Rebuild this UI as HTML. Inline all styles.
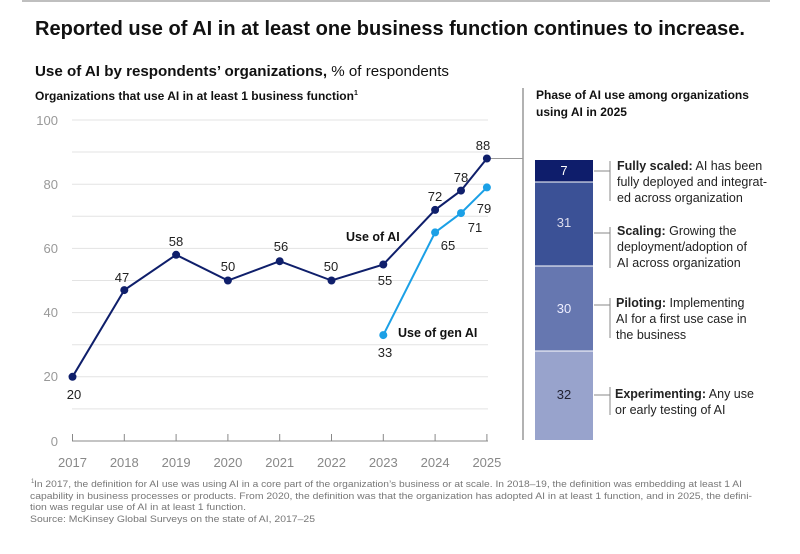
<!DOCTYPE html>
<html><head><meta charset="utf-8"><style>
body{margin:0;background:#fff;width:800px;height:549px;overflow:hidden;font-family:"Liberation Sans",sans-serif;}
svg text{font-family:"Liberation Sans",sans-serif;}
</style></head><body>
<svg width="800" height="549" viewBox="0 0 800 549" xmlns="http://www.w3.org/2000/svg">
<line x1="22" y1="1" x2="770" y2="1" stroke="#aaa" stroke-width="1.5"/>
<text x="35" y="35" font-size="20" fill="#111" font-weight="bold" textLength="710" lengthAdjust="spacingAndGlyphs">Reported use of AI in at least one business function continues to increase.</text>
<text x="35" y="76" font-size="14.5" fill="#111" textLength="414" lengthAdjust="spacingAndGlyphs"><tspan font-weight="bold">Use of AI by respondents’ organizations,</tspan> % of respondents</text>
<text x="35" y="100" font-size="12" fill="#111" font-weight="bold">Organizations that use AI in at least 1 business function<tspan font-size="7" dy="-5">1</tspan></text>
<text x="536" y="99" font-size="12" fill="#111" font-weight="bold">Phase of AI use among organizations</text>
<text x="536" y="116" font-size="12" fill="#111" font-weight="bold">using AI in 2025</text>
<line x1="523" y1="88" x2="523" y2="440" stroke="#666" stroke-width="1"/>
<g stroke="#e3e3e3" stroke-width="1">
<line x1="72" y1="120" x2="488" y2="120"/><line x1="72" y1="152" x2="488" y2="152"/>
<line x1="72" y1="184.2" x2="488" y2="184.2"/><line x1="72" y1="216.3" x2="488" y2="216.3"/>
<line x1="72" y1="248.4" x2="488" y2="248.4"/><line x1="72" y1="280.5" x2="488" y2="280.5"/>
<line x1="72" y1="312.6" x2="488" y2="312.6"/><line x1="72" y1="344.7" x2="488" y2="344.7"/>
<line x1="72" y1="376.8" x2="488" y2="376.8"/><line x1="72" y1="408.9" x2="488" y2="408.9"/>
</g>
<g stroke="#888" stroke-width="1">
<line x1="72" y1="441" x2="488" y2="441"/>
<line x1="72.5" y1="434" x2="72.5" y2="441"/><line x1="124.3" y1="434" x2="124.3" y2="441"/>
<line x1="176.1" y1="434" x2="176.1" y2="441"/><line x1="227.9" y1="434" x2="227.9" y2="441"/>
<line x1="279.7" y1="434" x2="279.7" y2="441"/><line x1="331.5" y1="434" x2="331.5" y2="441"/>
<line x1="383.3" y1="434" x2="383.3" y2="441"/><line x1="435.1" y1="434" x2="435.1" y2="441"/>
<line x1="486.9" y1="434" x2="486.9" y2="441"/>
</g>
<g font-size="13" fill="#999" text-anchor="end">
<text x="58" y="125">100</text><text x="58" y="189">80</text><text x="58" y="253">60</text>
<text x="58" y="317">40</text><text x="58" y="381">20</text><text x="58" y="446">0</text>
</g>
<g font-size="13" fill="#888" text-anchor="middle">
<text x="72.5" y="467">2017</text><text x="124.3" y="467">2018</text><text x="176.1" y="467">2019</text>
<text x="227.9" y="467">2020</text><text x="279.7" y="467">2021</text><text x="331.5" y="467">2022</text>
<text x="383.3" y="467">2023</text><text x="435.1" y="467">2024</text><text x="486.9" y="467">2025</text>
</g>
<line x1="487" y1="158.5" x2="523" y2="158.5" stroke="#999" stroke-width="1"/>
<polyline fill="none" stroke="#0f1f6b" stroke-width="2" points="72.5,376.8 124.3,290.1 176.1,254.8 227.9,280.5 279.7,261.2 331.5,280.5 383.3,264.5 435.1,209.9 461,190.6 486.9,158.5"/>
<g fill="#0f1f6b">
<circle cx="72.5" cy="376.8" r="4"/><circle cx="124.3" cy="290.1" r="4"/><circle cx="176.1" cy="254.8" r="4"/>
<circle cx="227.9" cy="280.5" r="4"/><circle cx="279.7" cy="261.2" r="4"/><circle cx="331.5" cy="280.5" r="4"/>
<circle cx="383.3" cy="264.5" r="4"/><circle cx="435.1" cy="209.9" r="4"/><circle cx="461" cy="190.6" r="4"/>
<circle cx="486.9" cy="158.5" r="4"/>
</g>
<polyline fill="none" stroke="#1ba0e6" stroke-width="2" points="383.3,335.1 435.1,232.4 461,213.1 486.9,187.4"/>
<g fill="#1ba0e6">
<circle cx="383.3" cy="335.1" r="4"/><circle cx="435.1" cy="232.4" r="4"/><circle cx="461" cy="213.1" r="4"/><circle cx="486.9" cy="187.4" r="4"/>
</g>
<g font-size="13" fill="#222" text-anchor="middle">
<text x="74" y="399">20</text><text x="122" y="282">47</text><text x="176" y="246">58</text>
<text x="228" y="271">50</text><text x="281" y="251">56</text><text x="331" y="271">50</text>
<text x="385" y="285">55</text><text x="435" y="201">72</text><text x="461" y="182">78</text>
<text x="483" y="150">88</text>
<text x="385" y="357">33</text><text x="448" y="250">65</text><text x="475" y="232">71</text><text x="484" y="213">79</text>
</g>
<text x="346" y="241" font-size="12.5" fill="#111" font-weight="bold">Use of AI</text>
<text x="398" y="337" font-size="12.5" fill="#111" font-weight="bold">Use of gen AI</text>
<rect x="535" y="160" width="58" height="22" fill="#0e1d6b"/>
<rect x="535" y="182" width="58" height="84" fill="#3b5196"/>
<rect x="535" y="266" width="58" height="85" fill="#6677b0"/>
<rect x="535" y="351" width="58" height="89" fill="#98a3cc"/>
<line x1="535" y1="182" x2="593" y2="182" stroke="#fff" stroke-width="1"/>
<line x1="535" y1="266" x2="593" y2="266" stroke="#fff" stroke-width="1"/>
<line x1="535" y1="351" x2="593" y2="351" stroke="#fff" stroke-width="1"/>
<g font-size="13" text-anchor="middle">
<text x="564" y="175" fill="#fff">7</text><text x="564" y="227" fill="#dde">31</text>
<text x="564" y="313" fill="#eef">30</text><text x="564" y="399" fill="#223">32</text>
</g>
<g stroke="#888" stroke-width="1" fill="none">
<path d="M594 171H610M610 161V201"/>
<path d="M594 233H610M610 227V268"/>
<path d="M594 305H610M610 298V338"/>
<path d="M594 395H610M610 387V415"/>
</g>
<g font-size="12.5" fill="#222">
<text x="617" y="170"><tspan font-weight="bold">Fully scaled:</tspan> AI has been</text>
<text x="617" y="186">fully deployed and integrat-</text>
<text x="617" y="202">ed across organization</text>
<text x="617" y="235"><tspan font-weight="bold">Scaling:</tspan> Growing the</text>
<text x="617" y="251">deployment/adoption of</text>
<text x="617" y="267">AI across organization</text>
<text x="616" y="307"><tspan font-weight="bold">Piloting:</tspan> Implementing</text>
<text x="616" y="323">AI for a first use case in</text>
<text x="616" y="339">the business</text>
<text x="615" y="398"><tspan font-weight="bold">Experimenting:</tspan> Any use</text>
<text x="615" y="414">or early testing of AI</text>
</g>
<g font-size="9.5" fill="#777">
<text x="31" y="483" font-size="6">1</text>
<text x="34" y="487" textLength="708" lengthAdjust="spacingAndGlyphs">In 2017, the definition for AI use was using AI in a core part of the organization’s business or at scale. In 2018–19, the definition was embedding at least 1 AI</text>
<text x="30" y="499" textLength="722" lengthAdjust="spacingAndGlyphs">capability in business processes or products. From 2020, the definition was that the organization has adopted AI in at least 1 function, and in 2025, the defini-</text>
<text x="30" y="510" textLength="216" lengthAdjust="spacingAndGlyphs">tion was regular use of AI in at least 1 function.</text>
<text x="30" y="522" textLength="285" lengthAdjust="spacingAndGlyphs">Source: McKinsey Global Surveys on the state of AI, 2017–25</text>
</g>
</svg>
</body></html>
